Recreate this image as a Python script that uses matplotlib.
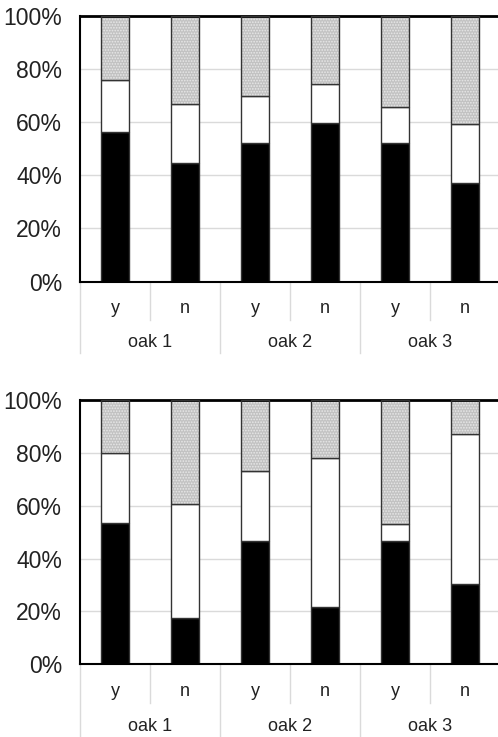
import matplotlib.pyplot as plt
import matplotlib.transforms as mtransforms
import numpy as np

plt.rcParams['font.family'] = ['Liberation Sans', 'DejaVu Sans']
plt.rcParams['hatch.linewidth'] = 0.8

sites = ['oak 1', 'oak 2', 'oak 3']
groups = ['y', 'n', 'y', 'n', 'y', 'n']

# percent shares per bar (black, white, dotted grey)
top_black = [56.2, 44.7, 52.0, 59.5, 52.0, 37.2]
top_white = [19.6, 22.0, 17.8, 14.7, 13.8, 22.1]
top_grey = [24.2, 33.3, 30.2, 25.8, 34.2, 40.7]

bot_black = [53.3, 17.6, 46.8, 21.8, 46.8, 30.4]
bot_white = [26.5, 42.9, 26.3, 56.4, 6.2, 56.6]
bot_grey = [20.2, 39.5, 26.9, 21.8, 47.0, 13.0]

W, H = 498, 737
fig = plt.figure(figsize=(W/100, H/100), dpi=100)


def panel(rect, black, white, grey, lab_y, site_y, short_end, long_end):
    ax = fig.add_axes(rect)
    x = np.arange(len(groups))
    b = np.array(black)
    w = np.array(white)
    g = np.array(grey)
    ax.bar(x, b, width=0.4, color='black', edgecolor='#333333', linewidth=1, zorder=2)
    ax.bar(x, w, width=0.4, bottom=b, color='white', edgecolor='#333333', linewidth=1, zorder=2)
    ax.bar(x, g, width=0.4, bottom=b + w, color='#c2c2c2', edgecolor='#e8e8e8',
           hatch='......', linewidth=0, zorder=2)
    ax.bar(x, g, width=0.4, bottom=b + w, fill=False, edgecolor='#333333', linewidth=1, zorder=3)

    ax.set_xlim(-0.5, 5.5)
    ax.set_ylim(0, 100)
    ax.set_yticks(np.arange(0, 101, 20))
    ax.set_yticklabels(['%d%%' % v for v in range(0, 101, 20)], fontsize=16.5, color='#222222')
    ax.yaxis.grid(True, color='#dadada', linewidth=1, zorder=0)
    ax.set_axisbelow(True)
    ax.tick_params(axis='y', length=0, pad=13)
    ax.set_xticks([])
    for s in ['left', 'bottom', 'right']:
        ax.spines[s].set_linewidth(1.5)
        ax.spines[s].set_color('black')
    ax.spines['top'].set_linewidth(2)
    ax.spines['top'].set_color('black')

    tr = mtransforms.blended_transform_factory(ax.transData, ax.transAxes)
    for i, lab in enumerate(groups):
        ax.text(i, lab_y, lab, transform=tr, ha='center', va='center', fontsize=13, color='#222222')
    for j, site in enumerate(sites):
        ax.text(2 * j + 0.5, site_y, site, transform=tr, ha='center', va='center', fontsize=13,
                color='#222222')
    for k in range(len(groups) + 1):
        xb = k - 0.5
        end = long_end if k % 2 == 0 else short_end
        ax.plot([xb, xb], [0, end], transform=tr, color='#dadada', linewidth=1, clip_on=False)
    return ax


# top panel: 0% at y=281.7 px, 100% at y=15.7 px
panel([80/W, 1 - 281.7/H, 420/W, 266/H], top_black, top_white, top_grey,
      -0.10, -0.23, -0.144, -0.268)
# bottom panel: 0% at y=664.3 px, 100% at y=400 px
panel([80/W, 1 - 664.3/H, 420/W, 264.3/H], bot_black, bot_white, bot_grey,
      -0.104, -0.236, -0.146, -0.30)

fig.savefig('out.png', dpi=100)
